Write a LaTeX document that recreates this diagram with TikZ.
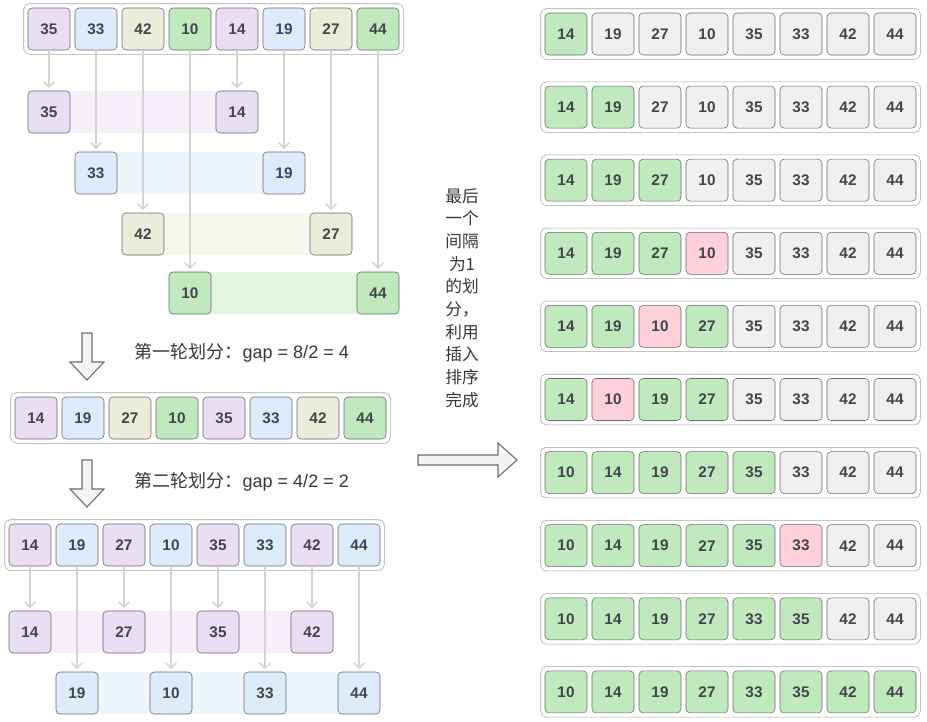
\documentclass[tikz,border=0pt]{standalone}
\usepackage{fontspec}
\setmainfont{Liberation Sans}
\newfontfamily\cjk{Noto Sans CJK SC}
\usetikzlibrary{positioning, fit, backgrounds, arrows.meta, calc}
\definecolor{cpur}{RGB}{234,222,245}
\definecolor{cblu}{RGB}{221,235,250}
\definecolor{cbei}{RGB}{236,236,218}
\definecolor{cgrn}{RGB}{192,234,189}
\definecolor{cgry}{RGB}{240,240,240}
\definecolor{cpnk}{RGB}{253,208,220}
\definecolor{cedge}{RGB}{105,105,110}
\definecolor{cbox}{RGB}{165,165,165}
\definecolor{clink}{RGB}{212,212,212}
\definecolor{ctext}{RGB}{68,68,78}
\definecolor{cnote}{RGB}{55,55,55}
\definecolor{cbig}{RGB}{110,110,110}

\begin{document}
\begin{tikzpicture}[x=0.75pt, y=-0.75pt,
    cell/.style={draw=cedge, rounded corners=3pt, minimum size=31.5pt, inner sep=0pt,
      font=\fontsize{11.5}{12}\selectfont\bfseries, text=ctext},
    rowbox/.style={draw=cbox, rounded corners=4pt, fill=white, inner sep=3pt},
    band/.style={inner sep=0pt},
    link/.style={draw=clink, line width=1.1pt, shorten >=2pt, -{Straight Barb[length=4pt,width=8pt]}},
    bigarrow/.style={draw=cbig, fill=cgry!70, line width=0.8pt},
    note/.style={font=\cjk\fontsize{13.5}{16}\selectfont, text=cnote}]

  \useasboundingbox (0,0) rectangle (927,721);

  % --- start array ---
  \foreach \v/\c [count=\i] in {35/cpur,33/cblu,42/cbei,10/cgrn,14/cpur,19/cblu,27/cbei,44/cgrn}
    \node[cell, fill=\c] (a\i) at ({49+47*(\i-1)},29) {\v};
  \begin{scope}[on background layer]
    \node[rowbox, fit=(a1)(a8)] (ra) {};
  \end{scope}

  % --- gap 4: four groups ---
  \foreach \j/\u/\w/\c/\y [evaluate=\j as \k using int(\j+4)] in
      {1/35/14/cpur/112, 2/33/19/cblu/173, 3/42/27/cbei/234, 4/10/44/cgrn/293} {
    \node[cell, fill=\c] (s\j) at ({49+47*(\j-1)},\y) {\u};
    \node[cell, fill=\c] (t\j) at ({237+47*(\j-1)},\y) {\w};
    \begin{scope}[on background layer]
      \node[band, fill=\c!48, fit=(s\j)(t\j)] (bs\j) {};
    \end{scope}
    \draw[link] (a\j) -- (s\j);
    \draw[link] (a\k) -- (t\j);
  }

  \draw[bigarrow] (82,333) -- (92,333) -- (92,362) -- (104,362) -- (87,380)
    -- (70,362) -- (82,362) -- cycle;
  \node[note, anchor=west] (n1) at (130,353) {第一轮划分：{\rmfamily gap = 8/2 = 4}};

  % --- after gap 4 ---
  \foreach \v/\c [count=\i] in {14/cpur,19/cblu,27/cbei,10/cgrn,35/cpur,33/cblu,42/cbei,44/cgrn}
    \node[cell, fill=\c] (b\i) at ({36+47*(\i-1)},418) {\v};
  \begin{scope}[on background layer]
    \node[rowbox, fit=(b1)(b8)] (rb) {};
  \end{scope}

  \draw[bigarrow] (82,460) -- (92,460) -- (92,489) -- (104,489) -- (87,507)
    -- (70,489) -- (82,489) -- cycle;
  \node[note, anchor=west] (n2) at (130,482) {第二轮划分：{\rmfamily gap = 4/2 = 2}};

  % --- gap 2: two groups ---
  \foreach \v/\c [count=\i] in {14/cpur,19/cblu,27/cpur,10/cblu,35/cpur,33/cblu,42/cpur,44/cblu}
    \node[cell, fill=\c] (c\i) at ({30+47*(\i-1)},545) {\v};
  \begin{scope}[on background layer]
    \node[rowbox, fit=(c1)(c8)] (rc) {};
  \end{scope}
  \foreach \v/\c/\y [count=\i] in {14/cpur/632,19/cblu/693,27/cpur/632,10/cblu/693,
      35/cpur/632,33/cblu/693,42/cpur/632,44/cblu/693} {
    \node[cell, fill=\c] (d\i) at ({30+47*(\i-1)},\y) {\v};
    \draw[link] (c\i) -- (d\i);
  }
  \begin{scope}[on background layer]
    \node[band, fill=cpur!48, fit=(d1)(d7)] (bd1) {};
    \node[band, fill=cblu!48, fit=(d2)(d8)] (bd2) {};
  \end{scope}

  % --- gap 1: insertion sort ---
  \node[note, align=center, font=\cjk\fontsize{12.5}{17}\selectfont] (n3) at (462,298)
    {最后\\一个\\间隔\\为1\\的划\\分，\\利用\\插入\\排序\\完成};
  \draw[bigarrow] (418,455) -- (498,455) -- (498,443) -- (517,460) -- (498,477)
    -- (498,465) -- (418,465) -- cycle;

  \foreach \r/\vals in {
      1/{14/cgrn,19/cgry,27/cgry,10/cgry,35/cgry,33/cgry,42/cgry,44/cgry},
      2/{14/cgrn,19/cgrn,27/cgry,10/cgry,35/cgry,33/cgry,42/cgry,44/cgry},
      3/{14/cgrn,19/cgrn,27/cgrn,10/cgry,35/cgry,33/cgry,42/cgry,44/cgry},
      4/{14/cgrn,19/cgrn,27/cgrn,10/cpnk,35/cgry,33/cgry,42/cgry,44/cgry},
      5/{14/cgrn,19/cgrn,10/cpnk,27/cgrn,35/cgry,33/cgry,42/cgry,44/cgry},
      6/{14/cgrn,10/cpnk,19/cgrn,27/cgrn,35/cgry,33/cgry,42/cgry,44/cgry},
      7/{10/cgrn,14/cgrn,19/cgrn,27/cgrn,35/cgrn,33/cgry,42/cgry,44/cgry},
      8/{10/cgrn,14/cgrn,19/cgrn,27/cgrn,35/cgrn,33/cpnk,42/cgry,44/cgry},
      9/{10/cgrn,14/cgrn,19/cgrn,27/cgrn,33/cgrn,35/cgrn,42/cgry,44/cgry},
      10/{10/cgrn,14/cgrn,19/cgrn,27/cgrn,33/cgrn,35/cgrn,42/cgrn,44/cgrn}} {
    \foreach \v/\c [count=\i] in \vals
      \node[cell, fill=\c] (r\r-\i) at ({566+47*(\i-1)},{34+73.1*(\r-1)}) {\v};
    \begin{scope}[on background layer]
      \node[rowbox, fit=(r\r-1)(r\r-8)] (rr\r) {};
    \end{scope}
  }
\end{tikzpicture}
\end{document}
